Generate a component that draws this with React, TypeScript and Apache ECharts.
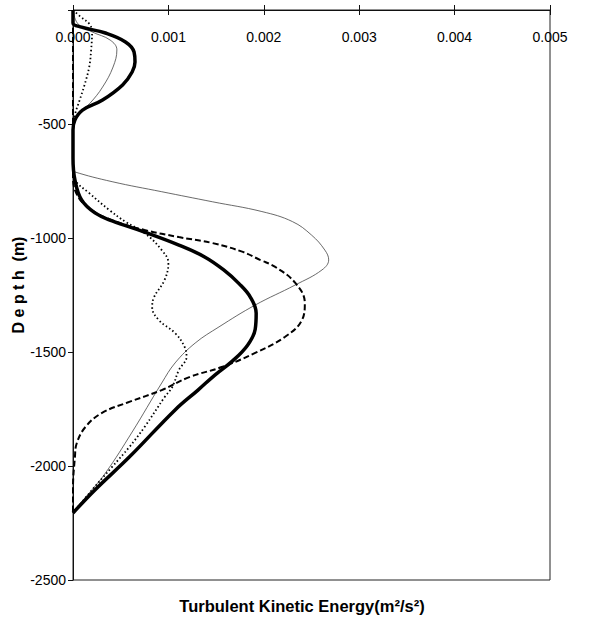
import React, { useEffect, useRef } from "react";
import * as echarts from "echarts";

const xTicks = [0, 0.001, 0.002, 0.003, 0.004, 0.005];
const yTicks = [0, -500, -1000, -1500, -2000, -2500];

const thickDepth = [0, -57, -75, -101, -140, -184, -228, -272, -329, -395, -439, -482, -526, -650, -745, -833, -890, -925, -974, -1031, -1083, -1140, -1200, -1260, -1330, -1400, -1470, -1540, -1600, -1667, -1754, -1961, -2105, -2206];
const thickTke = [0, 0, 0.00009, 0.00034, 0.00055, 0.00064, 0.00065, 0.00062, 0.00052, 0.00031, 0.0001, 0.00002, 0, 0, 0.00002, 0.00009, 0.00023, 0.00041, 0.00075, 0.00111, 0.00138, 0.00158, 0.00174, 0.00186, 0.00192, 0.00191, 0.00183, 0.00167, 0.00149, 0.00131, 0.00107, 0.00059, 0.00023, 0];

const thinDepth = [0, -60, -96, -132, -175, -250, -338, -408, -460, -520, -700, -709, -753, -797, -841, -884, -928, -987, -1053, -1096, -1140, -1206, -1294, -1390, -1461, -1548, -1636, -1851, -2031, -2118, -2200];
const thinTke = [0, 0.00005, 0.0002, 0.00039, 0.00046, 0.00042, 0.00031, 0.00018, 0.00005, 0, 0, 0.00001, 0.00041, 0.00093, 0.00146, 0.00198, 0.0023, 0.0025, 0.00264, 0.00268, 0.00261, 0.00233, 0.00191, 0.00153, 0.00128, 0.00107, 0.00093, 0.00062, 0.00034, 0.00017, 0];

const dashedDepth = [0, -300, -600, -720, -800, -870, -925, -965, -996, -1022, -1061, -1096, -1127, -1197, -1285, -1360, -1434, -1504, -1566, -1610, -1667, -1719, -1768, -1829, -1899, -1961, -2100, -2206];
const dashedTke = [0, 0, 0, 0, 0.00003, 0.00017, 0.00043, 0.00075, 0.00111, 0.00146, 0.00178, 0.00196, 0.00212, 0.00233, 0.00243, 0.0024, 0.00222, 0.00191, 0.00156, 0.00122, 0.00093, 0.00059, 0.0003, 0.00013, 0.00004, 0.00002, 0, 0];

const dottedDepth = [0, -30, -60, -96, -175, -250, -330, -395, -460, -520, -700, -745, -803, -877, -929, -978, -1053, -1110, -1184, -1259, -1303, -1360, -1417, -1478, -1522, -1579, -1654, -1698, -1829, -1917, -2004, -2105, -2206];
const dottedTke = [0, 0.00008, 0.00017, 0.0002, 0.00019, 0.00017, 0.00012, 0.00007, 0.00002, 0, 0, 0.00002, 0.00017, 0.00038, 0.00055, 0.00075, 0.00093, 0.001, 0.00096, 0.00085, 0.00083, 0.0009, 0.00107, 0.00117, 0.00119, 0.00111, 0.00104, 0.00096, 0.00075, 0.00059, 0.00041, 0.0002, 0];

const pair = (xs: number[], ys: number[]) => xs.map((x, i) => [x, ys[i]]);

const tickFont = "'Liberation Sans Narrow', 'Liberation Sans', Arial, sans-serif";

export default function App() {
  const ref = useRef<HTMLDivElement>(null);
  useEffect(() => {
    if (!ref.current) return;
    const chart = echarts.init(ref.current, null, { renderer: "svg" });
    chart.setOption({
      animation: false,
      backgroundColor: "#fff",
      grid: { left: 73, right: 46, top: 10, bottom: 42, show: true, borderColor: "#222", borderWidth: 1 },
      xAxis: [
        {
          type: "value",
          position: "top",
          min: xTicks[0],
          max: xTicks[xTicks.length - 1],
          interval: 0.001,
          axisLine: { show: true, lineStyle: { color: "#111", width: 1 } },
          axisTick: { show: true, inside: false, length: 5, lineStyle: { color: "#111" } },
          axisLabel: {
            inside: true,
            margin: 20,
            color: "#000",
            fontSize: 14,
            fontFamily: tickFont,
            formatter: (v: number) => v.toFixed(3),
          },
          splitLine: { show: false },
        },
        {
          type: "value",
          position: "top",
          min: xTicks[0],
          max: xTicks[xTicks.length - 1],
          interval: 0.001,
          axisLine: { show: false },
          axisTick: { show: true, inside: true, length: 5, lineStyle: { color: "#111" } },
          axisLabel: { show: false },
          splitLine: { show: false },
        },
      ],
      yAxis: {
        type: "value",
        min: yTicks[yTicks.length - 1],
        max: yTicks[0],
        interval: 500,
        axisLine: { show: true, lineStyle: { color: "#111", width: 1 } },
        axisTick: { show: true, inside: false, length: 5, lineStyle: { color: "#111" } },
        axisLabel: {
          color: "#000",
          fontSize: 14,
          margin: 7,
          fontFamily: tickFont,
          formatter: (v: number) => (v === 0 ? "" : String(v)),
        },
        splitLine: { show: false },
      },
      graphic: [
        {
          type: "text",
          x: 18,
          y: 285,
          rotation: Math.PI / 2,
          style: {
            text: "D e p t h  (m)",
            font: "bold 16px 'Liberation Sans', Arial, sans-serif",
            fill: "#000",
            textAlign: "center",
            textVerticalAlign: "middle",
          },
        },
        {
          type: "text",
          x: 302,
          y: 606,
          style: {
            text: "Turbulent Kinetic Energy(m²/s²)",
            font: "bold 16.5px 'Liberation Sans', Arial, sans-serif",
            fill: "#000",
            textAlign: "center",
            textVerticalAlign: "middle",
          },
        },
      ],
      series: [
        {
          name: "thin",
          type: "line",
          data: pair(thinTke, thinDepth),
          smooth: 0.4,
          symbol: "none",
          lineStyle: { color: "#444", width: 0.8 },
          z: 2,
        },
        {
          name: "dotted",
          type: "line",
          data: pair(dottedTke, dottedDepth),
          smooth: 0.4,
          symbol: "none",
          lineStyle: { color: "#000", width: 1.8, type: [1.5, 2.5] },
          z: 3,
        },
        {
          name: "dashed",
          type: "line",
          data: pair(dashedTke, dashedDepth),
          smooth: 0.4,
          symbol: "none",
          lineStyle: { color: "#000", width: 2, type: [6, 3] },
          z: 4,
        },
        {
          name: "thick",
          type: "line",
          data: pair(thickTke, thickDepth),
          smooth: 0.4,
          symbol: "none",
          lineStyle: { color: "#000", width: 3.5 },
          z: 5,
        },
      ],
    });
    return () => chart.dispose();
  }, []);
  return <div ref={ref} style={{ width: 596, height: 622, position: "absolute", left: 0, top: 0 }} />;
}
